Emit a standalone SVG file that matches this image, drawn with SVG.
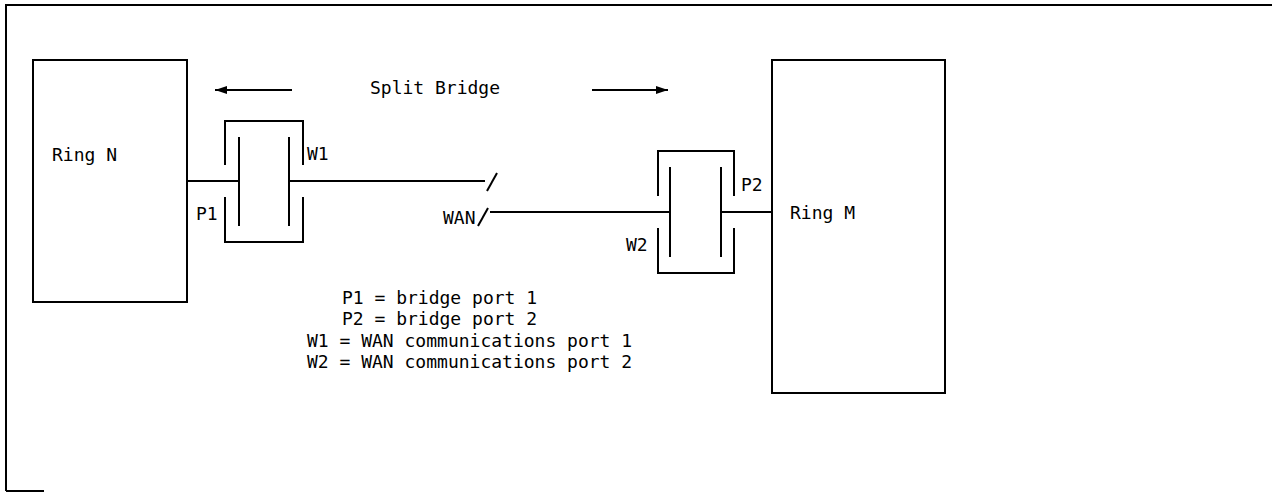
<svg xmlns="http://www.w3.org/2000/svg" width="1272" height="493" viewBox="0 0 1272 493">
<defs>
<style>
.ln{stroke:#000;stroke-width:2;fill:none}
.box{stroke:#000;stroke-width:2;fill:#fff}
text{font-family:"DejaVu Sans Mono","Liberation Mono",monospace;font-size:18px;fill:#000}
</style>
<marker id="ah" viewBox="0 0 12 10" refX="12" refY="5" markerWidth="12" markerHeight="10" markerUnits="userSpaceOnUse" orient="auto">
<path d="M0,1 L12,5 L0,9 Z" fill="#000"/>
</marker>
</defs>
<rect width="1272" height="493" fill="#fff"/>
<g id="frame">
<path class="ln" d="M6,491 L6,5 L1272,5"/>
<path class="ln" d="M6,491 L44,491"/>
</g>
<g id="ring-n">
<rect class="box" x="33" y="60" width="154" height="242"/>
<text x="52" y="161">Ring N</text>
</g>
<g id="ring-m">
<rect class="box" x="772" y="60" width="173" height="333"/>
<text x="790" y="219">Ring M</text>
</g>
<g id="bridge-left">
<path class="ln" d="M225,165 L225,121 L303,121 L303,165"/>
<path class="ln" d="M225,197 L225,242 L303,242 L303,197"/>
<path class="ln" d="M239,137 L239,226 M289,137 L289,226"/>
<text x="307" y="160">W1</text>
<text x="196" y="220">P1</text>
</g>
<g id="bridge-right">
<path class="ln" d="M658,196 L658,151 L734,151 L734,196"/>
<path class="ln" d="M658,228 L658,273 L734,273 L734,228"/>
<path class="ln" d="M670,167 L670,257 M721,167 L721,257"/>
<text x="741" y="191">P2</text>
<text x="626" y="251">W2</text>
</g>
<g id="wan">
<text x="443" y="224">WAN</text>
</g>
<g id="split-bridge">
<text x="370" y="94">Split Bridge</text>
</g>
<g id="legend">
<text x="342" y="304">P1 = bridge port 1</text>
<text x="342" y="325">P2 = bridge port 2</text>
<text x="307" y="347">W1 = WAN communications port 1</text>
<text x="307" y="368">W2 = WAN communications port 2</text>
</g>
<g id="connectors">
<path class="ln" d="M187,181 L239,181"/>
<path class="ln" d="M289,181 L485,181"/>
<path class="ln" d="M487,191 L497,173"/>
<path class="ln" d="M478,226 L488,208"/>
<path class="ln" d="M490,212 L670,212"/>
<path class="ln" d="M721,212 L772,212"/>
<path class="ln" d="M292,90 L215,90" marker-end="url(#ah)"/>
<path class="ln" d="M592,90 L668,90" marker-end="url(#ah)"/>
</g>
</svg>
